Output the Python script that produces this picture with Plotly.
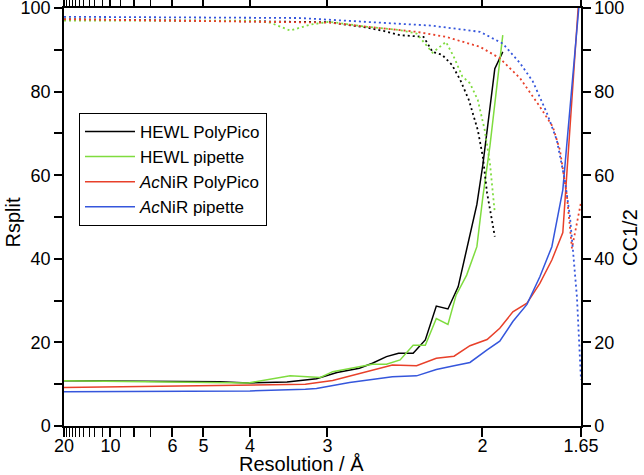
import plotly.graph_objects as go

# ---- Data (resolution in Å, values in %) ----
hewl_polypico_res = [20.0, 4.59, 4.03, 3.45, 3.11, 2.91, 2.72, 2.62, 2.52, 2.44, 2.35, 2.28,
                     2.22, 2.16, 2.11, 2.065, 2.024, 1.998, 1.948, 1.916]
hewl_polypico_rsplit = [10.8, 10.6, 10.3, 10.5, 11.3, 12.8, 13.8, 15.0, 16.6, 17.4, 17.4, 20.6,
                        28.7, 28.0, 33.3, 43.5, 53.0, 62.5, 85.5, 89.5]

hewl_pipette_res = [20.0, 8.27, 4.03, 3.41, 3.07, 2.95, 2.74, 2.62, 2.52, 2.43, 2.35, 2.28,
                    2.22, 2.16, 2.12, 2.07, 2.024, 1.998, 1.968, 1.94, 1.916]
hewl_pipette_rsplit = [10.8, 10.6, 10.3, 12.0, 11.6, 13.0, 14.0, 14.8, 14.8, 15.8, 19.3, 19.3,
                       25.7, 24.3, 31.3, 36.1, 42.9, 54.8, 67.0, 81.0, 93.5]

acnir_polypico_res = [20.0, 4.00, 3.23, 2.95, 2.72, 2.48, 2.33, 2.22, 2.13, 2.055, 1.98, 1.928,
                      1.877, 1.825, 1.780, 1.740, 1.705, 1.65]
acnir_polypico_rsplit = [9.2, 9.9, 10.0, 10.9, 12.6, 14.6, 14.4, 16.2, 16.7, 19.2, 20.7, 23.4,
                         27.3, 29.4, 34.1, 39.7, 46.3, 110.0]

acnir_pipette_res = [20.0, 4.00, 3.23, 3.11, 2.80, 2.48, 2.33, 2.22, 2.13, 2.055, 1.98, 1.928,
                     1.877, 1.825, 1.780, 1.740, 1.705, 1.65]
acnir_pipette_rsplit = [8.2, 8.4, 8.8, 9.0, 10.4, 11.8, 12.0, 13.5, 14.4, 15.2, 18.2, 20.3,
                        25.0, 29.1, 35.7, 42.9, 56.5, 106.0]

hewl_polypico_cc_res = [20.0, 2.98, 2.66, 2.54, 2.43, 2.29, 2.24, 2.19, 2.14, 2.10, 2.06, 2.02,
                        1.998, 1.98, 1.96, 1.948]
hewl_polypico_cc = [97.3, 96.6, 95.3, 94.5, 93.5, 93.1, 89.5, 88.8, 86.4, 82.8, 78.0, 70.8,
                    64.4, 55.7, 49.3, 45.3]

hewl_pipette_cc_res = [20.0, 4.00, 3.68, 3.41, 3.18, 2.98, 2.66, 2.43, 2.33, 2.24, 2.17, 2.13,
                       2.09, 2.055, 2.02, 1.99, 1.968, 1.948]
hewl_pipette_cc = [97.0, 97.0, 96.5, 94.6, 96.0, 96.7, 95.5, 94.7, 93.9, 89.3, 91.9, 88.2,
                   83.6, 82.0, 78.0, 70.8, 62.8, 51.0]

acnir_polypico_cc_res = [20.0, 2.98, 2.57, 2.33, 2.17, 2.01, 1.928, 1.85, 1.780, 1.737, 1.714,
                         1.692, 1.677, 1.65]
acnir_polypico_cc = [97.3, 96.5, 95.2, 94.3, 93.1, 90.7, 88.0, 83.2, 76.4, 71.6, 66.0,
                     54.9, 42.5, 53.5]

acnir_pipette_cc_res = [20.0, 3.29, 2.57, 2.25, 2.01, 1.916, 1.85, 1.804, 1.756, 1.724, 1.699,
                        1.683, 1.674, 1.662, 1.65]
acnir_pipette_cc = [97.9, 97.6, 96.5, 95.8, 94.3, 91.5, 86.8, 82.4, 74.8, 68.4, 58.9,
                    50.1, 42.1, 30.9, 11.0]

# axis ticks (resolution in Å)
major_res = [20, 10, 8, 6, 5, 4, 3, 2, 1.65]
major_labels = ["20", "10", "", "6", "5", "4", "3", "2", "1.65"]
minor_res = [19, 18, 17, 16, 15, 14, 13, 12, 11, 9, 7]

BLACK = "#000000"
GREEN = "#7fdc3f"
RED = "#e8402a"
BLUE = "#3556dc"


def inv(values):
    return [1.0 / v for v in values]


fig = go.Figure()

solid = [
    ("HEWL PolyPico", hewl_polypico_res, hewl_polypico_rsplit, BLACK),
    ("HEWL pipette", hewl_pipette_res, hewl_pipette_rsplit, GREEN),
    ("<i>Ac</i>NiR PolyPico", acnir_polypico_res, acnir_polypico_rsplit, RED),
    ("<i>Ac</i>NiR pipette", acnir_pipette_res, acnir_pipette_rsplit, BLUE),
]
dotted = [
    (hewl_polypico_cc_res, hewl_polypico_cc, BLACK),
    (hewl_pipette_cc_res, hewl_pipette_cc, GREEN),
    (acnir_polypico_cc_res, acnir_polypico_cc, RED),
    (acnir_pipette_cc_res, acnir_pipette_cc, BLUE),
]

for res, vals, col in dotted:
    fig.add_trace(go.Scatter(x=inv(res), y=vals, mode="lines", yaxis="y2",
                             line=dict(color=col, width=1.8, dash="2px,3px"),
                             showlegend=False, hoverinfo="skip"))

for name, res, vals, col in solid:
    fig.add_trace(go.Scatter(x=inv(res), y=vals, mode="lines", name=name,
                             line=dict(color=col, width=1.5)))

FONT = "Liberation Sans, Arial, sans-serif"
TICKFONT = dict(size=18)
TITLEFONT = dict(size=20)

common_y = dict(
    range=[0, 100], showgrid=False, zeroline=False, automargin=False,
    showline=True, linecolor="black", linewidth=1.5,
    ticks="outside", ticklen=8, tickwidth=1.5, tickcolor="black",
    tick0=0, dtick=20, tickfont=TICKFONT, ticklabelstandoff=0,
    ticklabeloverflow="allow",
    minor=dict(dtick=10, ticks="outside", ticklen=8, tickwidth=1.5,
               tickcolor="black", showgrid=False),
)

fig.update_layout(
    width=644, height=475,
    margin=dict(l=64, r=63, t=8, b=49, autoexpand=False),
    paper_bgcolor="white", plot_bgcolor="white",
    font=dict(family=FONT, size=17, color="black"),
    showlegend=True,
    legend=dict(x=0.029, y=0.749, xanchor="left", yanchor="top",
                bgcolor="white", bordercolor="black", borderwidth=1,
                font=dict(size=17), tracegroupgap=0, itemwidth=50),
    xaxis=dict(
        range=[1 / 20, 1 / 1.65], showgrid=False, zeroline=False, automargin=False,
        showline=True, linecolor="black", linewidth=1.5, mirror="allticks",
        ticks="outside", ticklen=9, tickwidth=1.5, tickcolor="black",
        tickmode="array", tickvals=inv(major_res), ticktext=major_labels,
        tickfont=TICKFONT, ticklabeloverflow="allow", ticklabelstandoff=-6,
        minor=dict(tickmode="array", tickvals=inv(minor_res), ticks="outside",
                   ticklen=5, tickwidth=1.2, tickcolor="black", showgrid=False),
    ),
    yaxis=dict(**common_y),
    yaxis2=dict(overlaying="y", side="right", **common_y),
    annotations=[
        dict(text="Resolution / Å", xref="paper", yref="paper", x=0.46, y=-0.0909,
             xanchor="center", yanchor="middle", showarrow=False, font=TITLEFONT),
        dict(text="Rsplit", xref="paper", yref="paper", x=-0.0977, y=0.488,
             xanchor="center", yanchor="middle", textangle=-90, showarrow=False,
             font=TITLEFONT),
        dict(text="CC1/2", xref="paper", yref="paper", x=1.0948, y=0.45,
             xanchor="center", yanchor="middle", textangle=-90, showarrow=False,
             font=TITLEFONT),
    ],
)

fig.write_html(
    "out.html",
    config={"displayModeBar": False},
    post_script="document.body.style.margin='0';document.body.style.overflow='hidden';",
)
